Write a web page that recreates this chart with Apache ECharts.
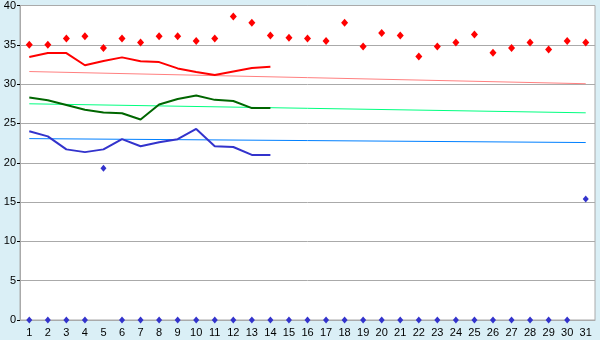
<!DOCTYPE html>
<html><head><meta charset="utf-8">
<script src="https://cdn.jsdelivr.net/npm/echarts@6/dist/echarts.min.js"></script>
<style>html,body{margin:0;padding:0;background:#daeff6;}#c{width:600px;height:340px;}</style>
</head><body><div id="c"></div>
<script>
var days = ['1','2','3','4','5','6','7','8','9','10','11','12','13','14','15','16','17','18','19','20','21','22','23','24','25','26','27','28','29','30','31'];
var yTicks = [0,5,10,15,20,25,30,35,40];
var maxPoints = [35.0,35.0,35.8,36.1,34.6,35.8,35.3,36.1,36.1,35.5,35.8,38.6,37.8,36.2,35.9,35.8,35.5,37.8,34.8,36.5,36.2,33.5,34.8,35.3,36.3,34.0,34.6,35.3,34.4,35.5,35.3];
var lowPoints = [0,0,0,0,19.3,0,0,0,0,0,0,0,0,0,0,0,0,0,0,0,0,0,0,0,0,0,0,0,0,0,15.4];
var redLine = [33.45,33.95,33.95,32.4,32.95,33.4,32.9,32.8,32.0,31.55,31.15,31.6,32.05,32.2];
var greenLine = [28.3,27.95,27.35,26.75,26.4,26.3,25.5,27.4,28.1,28.55,28.0,27.85,26.95,26.95];
var blueLine = [24.0,23.35,21.7,21.35,21.7,23.0,22.1,22.6,23.0,24.3,22.1,22.0,21.0,21.0];
var pinkTrend = [['1',31.6],['31',30.05]];
var lightGreenTrend = [['1',27.5],['31',26.35]];
var lightBlueTrend = [['1',23.07],['31',22.57]];

var chart = echarts.init(document.getElementById('c'));
var font = 'Liberation Sans, Arial, sans-serif';
chart.setOption({
  animation: false,
  backgroundColor: '#daeff6',
  grid: {left: 20, right: 5, top: 5, bottom: 20, show: true, backgroundColor: '#ffffff', borderColor: '#aaaaaa', borderWidth: 1},
  xAxis: {
    type: 'category', data: days, boundaryGap: true,
    axisLine: {lineStyle: {color: '#aaaaaa'}},
    axisTick: {alignWithLabel: true, length: 5, lineStyle: {color: '#000'}},
    axisLabel: {color: '#000', fontFamily: font, fontSize: 11, margin: 7, interval: 0},
    splitLine: {show: false}
  },
  yAxis: {
    type: 'value', min: yTicks[0], max: yTicks[yTicks.length-1], interval: 5,
    axisLine: {show: true, lineStyle: {color: '#aaaaaa'}},
    axisTick: {show: true, length: 3, lineStyle: {color: '#000'}},
    axisLabel: {color: '#000', fontFamily: font, fontSize: 11, margin: 4},
    splitLine: {lineStyle: {color: '#aaaaaa', width: 1}}
  },
  series: [
    {type: 'line', data: pinkTrend, symbol: 'none', lineStyle: {color: '#ff8080', width: 1}},
    {type: 'line', data: lightGreenTrend, symbol: 'none', lineStyle: {color: '#00ff80', width: 1}},
    {type: 'line', data: lightBlueTrend, symbol: 'none', lineStyle: {color: '#0080ff', width: 1}},
    {type: 'line', data: redLine, symbol: 'none', lineStyle: {color: '#ff0000', width: 2}},
    {type: 'line', data: greenLine, symbol: 'none', lineStyle: {color: '#006600', width: 2}},
    {type: 'line', data: blueLine, symbol: 'none', lineStyle: {color: '#3333cc', width: 2}},
    {type: 'scatter', data: maxPoints, symbol: 'diamond', symbolSize: [7, 8], itemStyle: {color: '#ff0000', opacity: 1}},
    {type: 'scatter', data: lowPoints, symbol: 'diamond', symbolSize: [6, 7], itemStyle: {color: '#3333cc', opacity: 1}, clip: false}
  ]
});
</script></body></html>
